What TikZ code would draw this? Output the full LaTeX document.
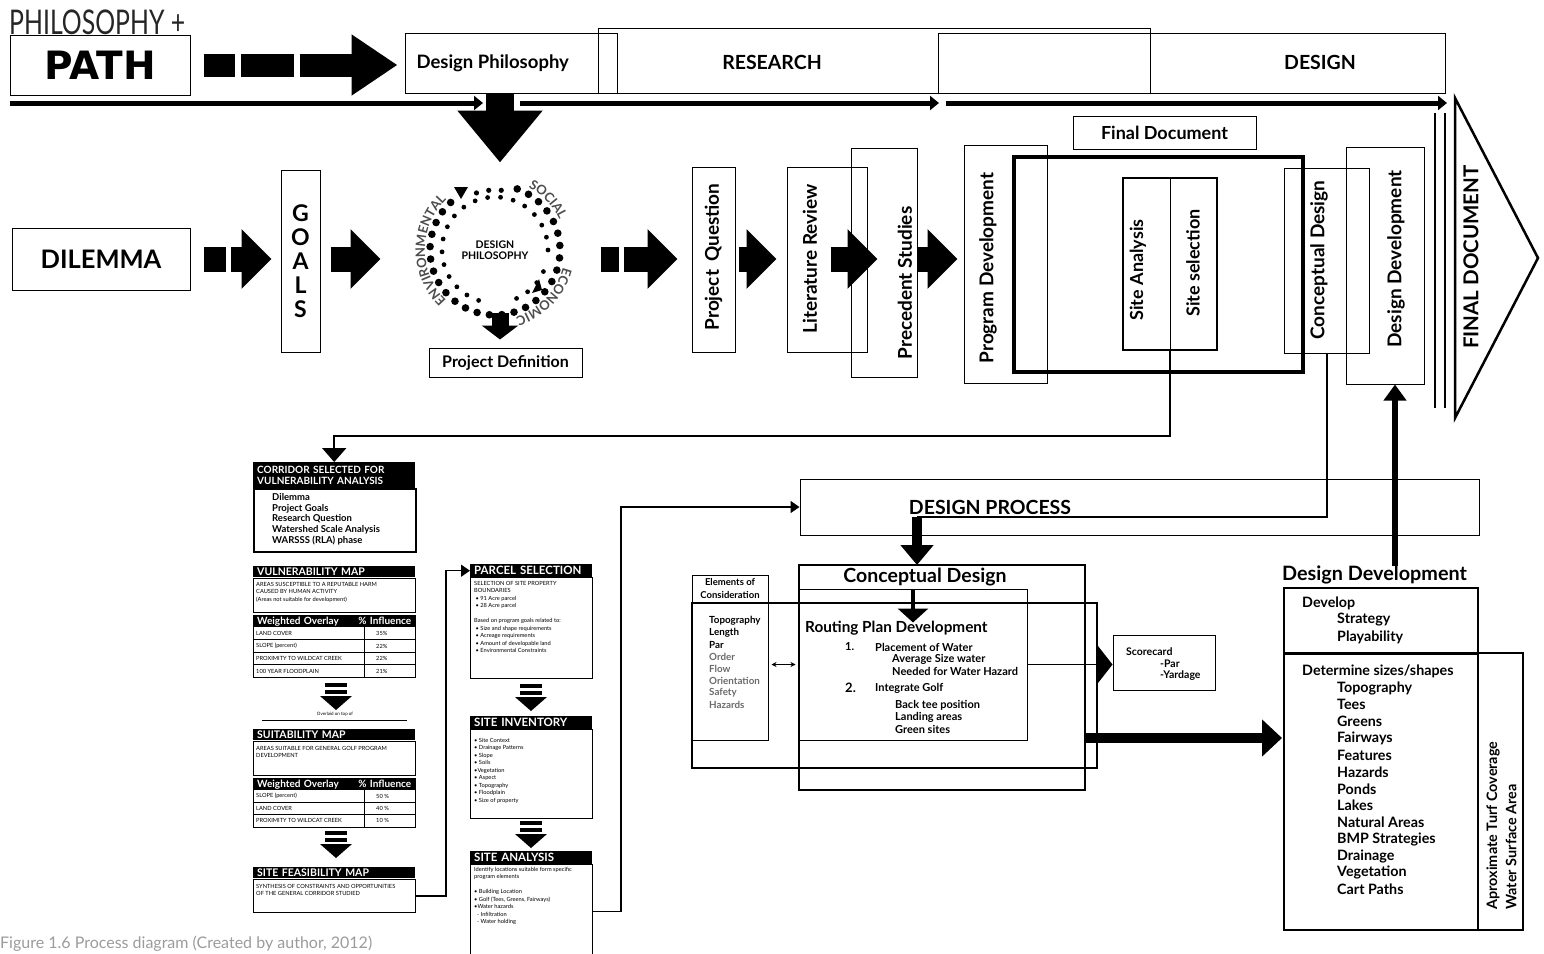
\documentclass[tikz,border=0pt]{standalone}
\usepackage{graphicx}
\usepackage{fontspec}
\setmainfont{Lato}
\newfontfamily\heavyfont{DejaVu Sans}
\usetikzlibrary{arrows.meta,decorations.text}

\definecolor{ringgray}{HTML}{4D4D4D}
\definecolor{softgray}{HTML}{6B6B6B}
\definecolor{capgray}{HTML}{9B9B9B}

\newcommand{\bsz}[1]{\bfseries\fontsize{#1}{#1}\selectfont}

\tikzset{
  box/.style={draw, line width=1pt, inner sep=0pt},
  heavybox/.style={draw, line width=4pt, inner sep=0pt},
  fatarrow/.style={line width=25pt, -{Triangle[length=30pt,width=58pt]}},
  timeline/.style={line width=5pt, -{Triangle[length=9pt,width=14pt]}},
  link/.style={line width=2pt},
  vlabel/.style={rotate=90, font=\bsz{19}},
  hdr/.style={fill=black, text=white, anchor=north west, inner xsep=4pt,
    inner ysep=0pt, text width=#1, align=left, font=\bsz{10.5}},
  sheet/.style={draw, line width=1pt, anchor=north west, inner sep=0pt},
  tiny/.style={anchor=north west, align=left, inner sep=0pt,
    font=\fontsize{5.7}{7.5}\selectfont},
  entry/.style={anchor=west, inner sep=0pt},
  ringword/.style={decorate, decoration={text along path, text align=center,
    text={|\bfseries\fontsize{13}{13}\selectfont\color{ringgray}|#1}}},
  stepdown/.pic={
    \fill (-11,0) rectangle (11,4);
    \fill (-11,7) rectangle (11,11);
    \fill (-16,13) -- (16,13) -- (0,27) -- cycle;
  }
}

\begin{document}
\begin{tikzpicture}[x=1pt, y=-1pt]
\useasboundingbox (0,0) rectangle (1544,953);

% banner
\node[anchor=base west, inner sep=0pt, text=black!85] (philo) at (9,34)
  {\fontsize{34}{34}\selectfont\scalebox{0.73}[1]{PHILOSOPHY +}};
\node[box, minimum width=180pt, minimum height=60pt] (path) at (100,65)
  {\heavyfont\bfseries\fontsize{39}{39}\selectfont PATH};
\node[box, minimum width=212pt, minimum height=60pt] (dphil) at (511,63) {};
\node[anchor=west, font=\bsz{18.5}] (dphiltxt) at (413,63) {Design Philosophy};
\node[box, minimum width=552pt, minimum height=65pt] (research) at (874,60.5) {};
\node[font=\bsz{19.5}] (researchtxt) at (772,62) {RESEARCH};
\node[box, minimum width=507pt, minimum height=60pt] (design) at (1191.5,63) {};
\node[font=\bsz{19.5}] (designtxt) at (1320,62) {DESIGN};

\draw[fatarrow, line width=23pt, -{Triangle[length=46pt,width=58pt]},
  dash pattern=on 31pt off 6pt on 53pt off 6pt on 300pt]
  ([xshift=13pt]path.east) -- ([xshift=-7pt]dphil.west |- path.east);

% timeline
\coordinate (tl0) at (10,103);
\coordinate (tl1) at (483,103);
\coordinate (tl2) at (520,103);
\coordinate (tl3) at (939,103);
\coordinate (tl4) at (946,103);
\coordinate (tl5) at (1447,103);
\draw[timeline] (tl0) -- (tl1);
\draw[timeline] (tl2) -- (tl3);
\draw[timeline] (tl4) -- (tl5);
\draw[line width=28pt, -{Triangle[length=52pt,width=82pt]}]
  ([xshift=-11pt]dphil.south) -- ++(0,69);

% main row
\node[box, minimum width=178pt, minimum height=62pt, font=\bsz{25.5}] (dilemma) at (101,259) {DILEMMA};
\node[box, minimum width=39pt, minimum height=182pt, align=center,
  font=\bfseries\fontsize{23}{24}\selectfont] (goals) at (300.5,261) {G\\O\\A\\L\\S};
\draw[fatarrow, dash pattern=on 22pt off 5pt on 200pt]
  ([xshift=13pt]dilemma.east) -- ([xshift=-9pt]goals.west |- dilemma.east);
\draw[fatarrow] ([xshift=10pt]goals.east |- dilemma.east) -- ++(50,0);

\coordinate (ring) at (495,250);
\begin{scope}[shift={(ring)}, y=1pt]
  % outer ring of large dots, small dots across the top
  \foreach \a in {-62,-51,...,75} \fill (\a:65) circle (3.8);
  \foreach \a in {133,144,...,287} \fill (\a:65) circle (3.8);
  \foreach \a in {84,96,...,112} \fill (\a:60) circle (2.6);
  % inner ring of small dots
  \foreach \a in {0,14,...,252} \fill (\a:53) circle (2.4);
  \foreach \a in {294,308,...,346} \fill (\a:53) circle (2.4);
  \fill (-41,63) -- (-27,63) -- (-34,51) -- cycle;
  \fill (37,-43) -- (44,-29) -- (47,-40) -- cycle;
  \path[ringword=ENVIRONMENTAL] (240:70) arc[start angle=240, end angle=120, radius=70];
  \path[ringword=SOCIAL] (90:71) arc[start angle=90, end angle=-3, radius=71];
  \path[ringword=ECONOMIC] (0:70) arc[start angle=0, end angle=-87, radius=70];
\end{scope}
\node[align=center, font=\bfseries\fontsize{10.5}{11.5}\selectfont] (ringtxt)
  at (ring) {DESIGN\\PHILOSOPHY};

\node[box, minimum width=153pt, minimum height=29pt, font=\bsz{16}] (projdef) at (505.5,362.5) {Project Definition};
\draw[line width=17pt, -{Triangle[length=14pt,width=36pt]}]
  ([xshift=-5.5pt, yshift=35pt]projdef.north) -- ([xshift=-5.5pt, yshift=8pt]projdef.north);

\node[box, minimum width=43pt, minimum height=185pt] (pq) at (713.5,259.5) {};
\node[vlabel] (pqtxt) at (713.5,257) {Project\hspace{8pt}Question};
\node[box, minimum width=80pt, minimum height=185pt] (lr) at (827,259.5) {};
\node[vlabel] (lrtxt) at (810,259) {Literature Review};
\node[box, minimum width=66pt, minimum height=229pt] (ps) at (884,262.5) {};
\node[vlabel] (pstxt) at (905,283) {Precedent Studies};
\node[box, minimum width=83pt, minimum height=238pt] (pd) at (1005.5,264) {};
\node[vlabel] (pdtxt) at (988,268) {Program Development};

\draw[fatarrow, dash pattern=on 18pt off 5pt on 200pt]
  ([xshift=-91pt]pq.west |- dilemma.east) -- ([xshift=-14pt]pq.west |- dilemma.east);
\draw[fatarrow] ([xshift=3pt]pq.east |- dilemma.east) -- ([xshift=-10pt]lr.west |- dilemma.east);
\draw[fatarrow] ([xshift=-37pt]lr.east |- dilemma.east) -- ([xshift=27pt]ps.west |- dilemma.east);
\draw[fatarrow] (ps.east |- dilemma.east) -- ([xshift=-6pt]pd.west |- dilemma.east);

\node[heavybox, minimum width=289pt, minimum height=215pt] (frame) at (1158.5,264.5) {};
\node[box, minimum width=183pt, minimum height=33pt, font=\bsz{18}] (finaldoc) at (1164.5,132.5) {Final Document};
\node[box, line width=1.5pt, minimum width=94pt, minimum height=172pt] (site) at (1170,264) {};
\draw (site.north) -- (site.south);
\node[vlabel, font=\bsz{18}] (satxt) at (1138,270) {Site Analysis};
\node[vlabel, font=\bsz{18}] (sstxt) at (1193,263) {Site selection};
\node[box, minimum width=85pt, minimum height=185pt] (concept) at (1327,261) {};
\node[vlabel] (concepttxt) at (1319,260) {Conceptual Design};
\node[box, minimum width=78pt, minimum height=237pt] (devel) at (1385.5,265.5) {};
\node[vlabel] (develtxt) at (1396,259) {Design Development};

% final document chevron
\coordinate (fdtop) at (1455,98);
\coordinate (fdtip) at (1538,258);
\coordinate (fdbot) at (1455,418);
\draw[line width=2.5pt] (fdtop) -- (fdtip) -- (fdbot) -- cycle;
\draw[line width=1.5pt] (1435,113) -- (1435,408);
\draw[line width=1.5pt] (1445,113) -- (1445,408);
\node[rotate=90, font=\bsz{20.5}] (fdtxt) at (1471,257) {FINAL DOCUMENT};

% design process
\node[box, minimum width=679pt, minimum height=56pt] (dproc) at (1139.5,507) {};
\node[font=\bsz{19.5}] (dproctxt) at (990,507) {DESIGN PROCESS};
\coordinate (dpin) at (917,517);
\draw[link] (concept.south) |- (dpin);
\draw[line width=10pt, -{Triangle[length=20pt,width=32pt]}] (dpin) -- (dpin |- 0,565);

\node[box, line width=2.5pt, minimum width=286pt, minimum height=225pt] (concd) at (942,677.5) {};
\node[font=\bsz{19.5}] (concdtxt) at (925,577) {Conceptual Design};
\node[box, minimum width=228pt, minimum height=151pt] (routing) at (913,664.5) {};
\node[box, minimum width=76pt, minimum height=165pt] (elem) at (730,657.5) {};
\node[box, line width=2pt, minimum width=405pt, minimum height=165pt] (frame2) at (894.5,685.5) {};
\node[align=center, font=\bfseries\fontsize{9.5}{13}\selectfont] (elemtxt) at (730,589) {Elements of\\Consideration};
\draw[line width=4pt, -{Triangle[length=14pt,width=30pt]}] (routing.north) -- ([yshift=-34pt]routing.north);

\foreach \w/\c [count=\i from 0] in {Topography/black, Length/black, Par/black,
  Order/softgray, Flow/softgray, Orientation/softgray, Safety/softgray, Hazards/softgray}
  \node[entry, font=\bsz{9.8}, text=\c] (el\i) at (709,621+12*\i) {\w};

\node[entry, font=\bsz{15.3}] (rpd) at (805,628) {Routing Plan Development};
\node[entry, font=\bsz{11}] (n1) at (845,647) {1.};
\node[entry, font=\bsz{11}] (r1) at (875,647) {Placement of Water};
\node[entry, font=\bsz{11}] (r2) at (892,659) {Average Size water};
\node[entry, font=\bsz{11}] (r3) at (892,671) {Needed for Water Hazard};
\node[entry, font=\bsz{13}] (n2) at (845,688) {2.};
\node[entry, font=\bsz{11}] (r4) at (875,688) {Integrate Golf};
\node[entry, font=\bsz{11}] (r5) at (895,705) {Back tee position};
\node[entry, font=\bsz{11}] (r6) at (895,717) {Landing areas};
\node[entry, font=\bsz{11}] (r7) at (895,729) {Green sites};

\draw[line width=1pt, {Stealth[length=5pt,width=5pt]}-{Stealth[length=5pt,width=5pt]}]
  ([xshift=3pt]elem.east |- routing.west) -- ([xshift=-3pt]routing.west);

\node[box, minimum width=102pt, minimum height=55pt] (score) at (1164,662.5) {};
\node[entry, font=\bsz{10.5}] (sc1) at (1126,652) {Scorecard};
\node[entry, font=\bsz{10.5}] (sc2) at (1160,664) {-Par};
\node[entry, font=\bsz{10.5}] (sc3) at (1160,676) {-Yardage};
\draw[line width=1.5pt, -{Triangle[length=15pt,width=38pt]}] (routing.east) -- (score.west |- routing.east);

% design development
\node[entry, font=\bsz{19.8}] (ddtitle) at (1282,575) {Design Development};
\node[box, line width=1.5pt, minimum width=194pt, minimum height=66pt] (ddtop) at (1381,621) {};
\node[box, line width=1.5pt, minimum width=194pt, minimum height=276pt] (ddlow) at (1381,792) {};
\node[box, line width=1.5pt, minimum width=239pt, minimum height=277pt] (ddside) at (1403.5,791.5) {};
\node[entry, font=\bsz{14.3}] (dd0) at (1302,603) {Develop};
\node[entry, font=\bsz{14.3}] (dd1) at (1337,620) {Strategy};
\node[entry, font=\bsz{14.3}] (dd2) at (1337,637) {Playability};
\node[entry, font=\bsz{14.3}] (dd3) at (1302,671) {Determine sizes/shapes};
\foreach \w [count=\i from 0] in {Topography, Tees, Greens, Fairways, Features, Hazards,
  Ponds, Lakes, Natural Areas, BMP Strategies, Drainage, Vegetation, Cart Paths}
  \node[entry, font=\bsz{14.3}] (ddl\i) at (1337,688+16.8*\i) {\w};
\node[rotate=90, anchor=west, font=\bsz{14.4}] (turf) at (1493,913) {Aproximate Turf Coverage};
\node[rotate=90, anchor=west, font=\bsz{14.4}] (water) at (1511,913) {Water Surface Area};

\coordinate (ddin) at (1282,738);
\draw[line width=10pt, -{Triangle[length=20pt,width=36pt]}] (concd.east |- ddin) -- (ddin);
\coordinate (ddup) at (1395,566);
\draw[line width=6pt, -{Triangle[length=16pt,width=22pt]}] (ddup) -- (ddup |- devel.south);

% left column
\node[hdr=154pt, minimum height=26pt, font=\bfseries\fontsize{10}{10.5}\selectfont] (corrhead)
  at (253,462) {CORRIDOR SELECTED FOR\\VULNERABILITY ANALYSIS};
\node[sheet, line width=1.5pt, minimum width=162pt, minimum height=63pt] (corrbody) at (253,488) {};
\node[tiny, font=\bfseries\fontsize{9.5}{10.8}\selectfont] (corrlist) at (272,493)
  {Dilemma\\Project Goals\\Research Question\\Watershed Scale Analysis\\WARSSS (RLA) phase};
\draw[link, -{Triangle[length=14pt,width=24pt]}] (site.south) -- ++(0,85) -| (corrhead.north);

\node[hdr=154pt, minimum height=11pt] (vmaphead) at (253,566) {VULNERABILITY MAP};
\node[sheet, minimum width=162pt, minimum height=34pt] (vmapbody) at (253,578) {};
\node[tiny] (vmaptxt) at (256,582)
  {AREAS SUSCEPTIBLE TO A REPUTABLE HARM\\CAUSED BY HUMAN ACTIVITY\\(Areas not suitable for development)};
\node[sheet, minimum width=162pt, minimum height=62pt] (vtab) at (253,615) {};
\node[hdr=154pt, minimum height=12pt, font=\bsz{10}] (vtabhead) at (253,615) {Weighted Overlay\hfill\% Influence};
\foreach \lab/\val [count=\i from 0] in {LAND COVER/35\%, SLOPE (percent)/22\%,
  PROXIMITY TO WILDCAT CREEK/22\%, 100 YEAR FLOODPLAIN/21\%}{
  \node[tiny, anchor=west] (vrow\i) at (256,633.5+12.5*\i) {\lab};
  \node[tiny, anchor=west] (vval\i) at (376,633.5+12.5*\i) {\val};
}
\foreach \i in {1,2,3} \draw (253,627+12.5*\i) -- (415,627+12.5*\i);
\draw (364,627) -- (364,677);

\pic at (336,683) {stepdown};
\node[inner sep=0pt, font=\fontsize{4.5}{5}\selectfont] (overlaid) at (335,714) {Overlaid on top of};
\draw[line width=0.8pt] (262,720) -- (407,720);

\node[hdr=154pt, minimum height=11pt] (smaphead) at (253,729) {SUITABILITY MAP};
\node[sheet, minimum width=162pt, minimum height=34pt] (smapbody) at (253,741) {};
\node[tiny] (smaptxt) at (256,746) {AREAS SUITABLE FOR GENERAL GOLF PROGRAM\\DEVELOPMENT};
\node[sheet, minimum width=162pt, minimum height=49pt] (stab) at (253,778) {};
\node[hdr=154pt, minimum height=12pt, font=\bsz{10}] (stabhead) at (253,778) {Weighted Overlay\hfill\% Influence};
\foreach \lab/\val [count=\i from 0] in {SLOPE (percent)/50 \%, LAND COVER/40 \%,
  PROXIMITY TO WILDCAT CREEK/10 \%}{
  \node[tiny, anchor=west] (srow\i) at (256,796.2+12.3*\i) {\lab};
  \node[tiny, anchor=west] (sval\i) at (376,796.2+12.3*\i) {\val};
}
\foreach \i in {1,2} \draw (253,790+12.3*\i) -- (415,790+12.3*\i);
\draw (364,790) -- (364,827);

\pic at (336,831) {stepdown};
\node[hdr=154pt, minimum height=11pt] (feashead) at (253,867) {SITE FEASIBILITY MAP};
\node[sheet, minimum width=162pt, minimum height=33pt] (feasbody) at (253,879) {};
\node[tiny] (feastxt) at (256,884)
  {SYNTHESIS OF CONSTRAINTS AND OPPORTUNITIES\\OF THE GENERAL CORRIDOR STUDIED};

% middle column
\node[hdr=114pt, minimum height=13pt, font=\bsz{11.5}] (parcelhead) at (470,564) {PARCEL SELECTION};
\node[sheet, minimum width=122pt, minimum height=101pt] (parcelbody) at (470,577) {};
\node[tiny] (parceltxt) at (474,581) {SELECTION OF SITE PROPERTY\\BOUNDARIES\\
  \ • 91 Acre parcel\\\ • 28 Acre parcel\\[7.5pt]Based on program goals related to:\\
  \ • Size and shape requirements\\\ • Acreage requirements\\
  \ • Amount of developable land\\\ • Environmental Constraints};
\pic at (531,684) {stepdown};
\node[hdr=114pt, minimum height=13pt, font=\bsz{11.5}] (invhead) at (470,716) {SITE INVENTORY};
\node[sheet, minimum width=122pt, minimum height=89pt] (invbody) at (470,729) {};
\node[tiny] (invtxt) at (474,738) {• Site Context\\• Drainage Patterns\\• Slope\\• Soils\\
  •Vegetation\\• Aspect\\• Topography\\• Floodplain\\• Size of property};
\pic at (531,821) {stepdown};
\node[hdr=114pt, minimum height=13pt, font=\bsz{11.5}] (sahead) at (470,851) {SITE ANALYSIS};
\node[sheet, minimum width=122pt, minimum height=94pt] (sabody) at (470,864) {};
\node[tiny] (satxt2) at (474,867) {Identify locations suitable form specific\\program elements\\[7.5pt]
  • Building Location\\• Golf (Tees, Greens, Fairways)\\•Water hazards\\
  \ \ - Infiltration\\\ \ - Water holding};

\draw[line width=1.5pt, -{Triangle[length=9pt,width=12pt]}] (feasbody.east) -- ++(30,0) |- (parcelhead.west);
\draw[line width=1.5pt, -{Triangle[length=9pt,width=12pt]}] (sabody.east) -- ++(28,0) |- (dproc.west);

% caption
\node[anchor=base west, inner sep=0pt, text=capgray, font=\fontsize{16}{16}\selectfont] (caption)
  at (0,948) {Figure 1.6 Process diagram (Created by author, 2012)};
\end{tikzpicture}
\end{document}
